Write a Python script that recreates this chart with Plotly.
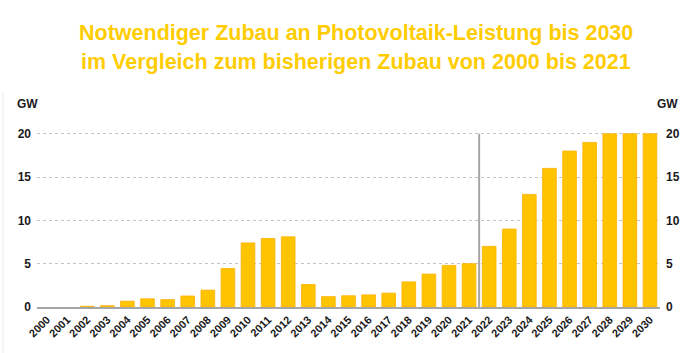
import plotly.graph_objects as go

years = [str(y) for y in range(2000, 2031)]
values = [0.0, 0.0, 0.08, 0.15, 0.67, 0.95, 0.85, 1.27, 1.95, 4.45,
          7.4, 7.9, 8.1, 2.6, 1.2, 1.3, 1.4, 1.6, 2.9, 3.8,
          4.8, 5.0, 7.0, 9.0, 13.0, 16.0, 18.0, 19.0, 20.0, 20.0, 20.0]
y_ticks = [0, 5, 10, 15, 20]
title_lines = ["Notwendiger Zubau an Photovoltaik-Leistung bis 2030",
               "im Vergleich zum bisherigen Zubau von 2000 bis 2021"]
unit = "GW"
split_between = (years.index("2021") + years.index("2022")) / 2

FONT = "Liberation Sans, Arial, sans-serif"
Y_MAX = 20.2
TOP, BOTTOM, LEFT, RIGHT = 132, 46, 37, 40
PH = 353 - TOP - BOTTOM
PW = 700 - LEFT - RIGHT

fig = go.Figure()
fig.add_trace(go.Bar(x=years, y=values,
                     marker=dict(color="#FFC400",
                                 line=dict(color="#FFB000", width=[0 if v == 0 else 0.8 for v in values])),
                     hoverinfo="x+y", showlegend=False))
fig.add_trace(go.Scatter(x=[years[0]], y=[0], yaxis="y2", mode="markers",
                         marker=dict(opacity=0), showlegend=False, hoverinfo="skip"))

tickfont = dict(family=FONT, size=12, color="#1a1a1a", weight="bold")
fig.update_layout(
    width=700, height=353,
    margin=dict(l=LEFT, r=RIGHT, t=TOP, b=BOTTOM),
    plot_bgcolor="white", paper_bgcolor="white",
    bargap=0.32,
    xaxis=dict(type="category", tickangle=-45,
               tickfont=dict(family=FONT, size=11, color="#1a1a1a", weight="bold"),
               showline=True, linecolor="#A6A6A6", linewidth=2, ticks="", showgrid=False,
               range=[-0.5, len(years) - 0.5]),
    yaxis=dict(range=[0, Y_MAX], tickvals=y_ticks, tickfont=tickfont, showgrid=True,
               gridcolor="#C4C4C4", griddash="dot", gridwidth=1, zeroline=False, ticks="",
               ticklabelstandoff=5),
    yaxis2=dict(range=[0, Y_MAX], tickvals=y_ticks, tickfont=tickfont, overlaying="y", side="right",
                showgrid=False, zeroline=False, ticks="", ticklabelstandoff=5),
)

fig.add_shape(type="line", xref="x", yref="y", x0=split_between, x1=split_between, y0=0, y1=20,
              line=dict(color="#A6A6A6", width=2))
fig.add_shape(type="line", xref="paper", yref="paper", x0=-34 / PW, x1=-34 / PW,
              y0=-BOTTOM / PH, y1=(PH + 40) / PH,
              line=dict(color="#EBEBEB", width=1))

for i, line in enumerate(title_lines):
    fig.add_annotation(text="<b>" + line + "</b>", xref="paper", yref="paper",
                       x=(356 - LEFT) / PW, y=1 + (TOP - (33 + 29 * i)) / PH,
                       xanchor="center", yanchor="middle", showarrow=False,
                       font=dict(family=FONT, size=21.5, color="#FFCC00"))

for xpix in (27, 667):
    fig.add_annotation(text="<b>" + unit + "</b>", xref="paper", yref="paper", x=(xpix - LEFT) / PW,
                       y=1 + (TOP - 104) / PH, xanchor="center", yanchor="middle", showarrow=False,
                       font=dict(family=FONT, size=12, color="#1a1a1a"))

fig.write_html("out.html")
